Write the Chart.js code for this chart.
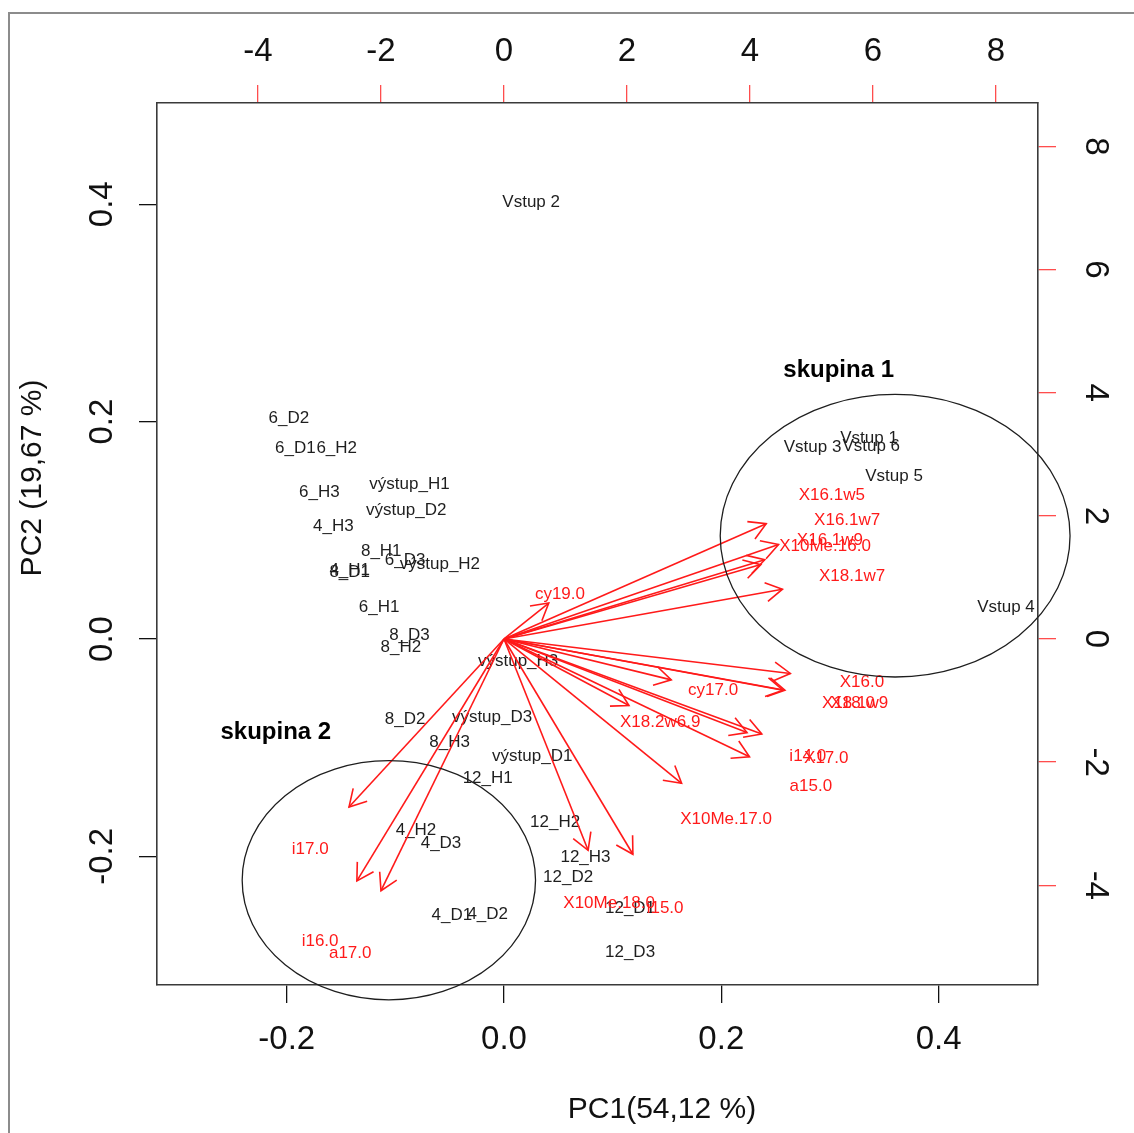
<!DOCTYPE html>
<html>
<head>
<meta charset="utf-8">
<title>PCA biplot</title>
<script src="https://cdn.jsdelivr.net/npm/chart.js@4.4.1/dist/chart.umd.min.js"></script>
<style>
  html, body { margin: 0; padding: 0; background: #fff; overflow: hidden; }
  #wrap { position: relative; width: 1134px; height: 1133px; }
  #frame { position: absolute; left: 8px; top: 12px; width: 1200px; height: 1200px;
           border-left: 2px solid #8c8c8c; border-top: 2px solid #8c8c8c; }
  #biplot { position: absolute; left: 0; top: 0; }
</style>
</head>
<body>
<div id="wrap">
  <div id="frame"></div>
  <canvas id="biplot" width="1134" height="1133"></canvas>
</div>
<script>
// ===============================================================
// DATA
// ===============================================================
// samples: scores on PC1 / PC2 (bottom + left axes)
const sampleNames = ['Vstup 2', '6_D2', '6_D1', '6_H2', '6_H3', 'výstup_H1', 'výstup_D2', '4_H3',
    '8_H1', '6_D3', 'výstup_H2', '4_H1', '8_D1', '6_H1', '8_D3', '8_H2', 'výstup_H3', '8_D2',
    'výstup_D3', '8_H3', 'výstup_D1', '12_H1', '12_H2', '4_H2', '4_D3', '12_H3', '12_D2', '12_D1',
    '4_D1', '4_D2', '12_D3', 'Vstup 1', 'Vstup 3', 'Vstup 6', 'Vstup 5', 'Vstup 4'];
const samplePC1 = [0.025, -0.198, -0.192, -0.154, -0.170, -0.087, -0.090, -0.157,
    -0.113, -0.091, -0.059, -0.142, -0.142, -0.115, -0.087, -0.095, 0.013, -0.091,
    -0.011, -0.050, 0.026, -0.015, 0.047, -0.081, -0.058, 0.075, 0.059, 0.116,
    -0.048, -0.015, 0.116, 0.336, 0.284, 0.338, 0.359, 0.462];
const samplePC2 = [0.402, 0.203, 0.175, 0.175, 0.135, 0.142, 0.118, 0.104,
    0.081, 0.072, 0.069, 0.063, 0.061, 0.029, 0.003, -0.008, -0.021, -0.074,
    -0.072, -0.095, -0.108, -0.128, -0.169, -0.176, -0.188, -0.201, -0.219, -0.248,
    -0.254, -0.253, -0.288, 0.185, 0.176, 0.177, 0.150, 0.029];

// variables: loadings (top + right axes); arrows go to 0.8 * loading, label sits at the loading
const varNames = ['cy19.0', 'X16.1w5', 'X16.1w7', 'X16.1w9', 'X10Me.16.0', 'X18.1w7', 'X16.0',
    'X18.1w9', 'X18.0', 'cy17.0', 'X18.2w6.9', 'i14.0', 'X17.0', 'a15.0', 'X10Me.17.0',
    'X10Me.18.0', 'i15.0', 'i17.0', 'i16.0', 'a17.0'];
const varX = [0.91, 5.33, 5.58, 5.30, 5.22, 5.66, 5.82,
    5.71, 5.67, 3.40, 2.54, 4.94, 5.24, 4.99, 3.61,
    1.71, 2.62, -3.15, -2.99, -2.50];
const varY = [0.73, 2.34, 1.92, 1.61, 1.51, 1.01, -0.70,
    -1.04, -1.04, -0.83, -1.35, -1.90, -1.93, -2.39, -2.93,
    -4.29, -4.37, -3.41, -4.91, -5.11];
const arrowShrink = 0.8;

// tick labels
const pcTicksX = [-0.2, 0.0, 0.2, 0.4];
const pcTicksY = [-0.2, 0.0, 0.2, 0.4];
const loadTicksX = [-4, -2, 0, 2, 4, 6, 8];
const loadTicksY = [-4, -2, 0, 2, 4, 6, 8];

// groups drawn as ellipses (PC units)
const groupNames = ['skupina 1', 'skupina 2'];
const groupCx = [0.360, -0.106];
const groupCy = [0.095, -0.222];
const groupRx = [0.161, 0.135];
const groupRy = [0.130, 0.110];
const groupLabelX = [0.308, -0.210];
const groupLabelY = [0.247, -0.086];

const axisTitleX = 'PC1(54,12 %)';
const axisTitleY = 'PC2 (19,67 %)';

document.addEventListener('DOMContentLoaded', () => {

    const FONT = '"Liberation Sans", Arial, sans-serif';
    const RED = '#ff1a1a';
    const INK = '#1e1e1e';

    // ===============================================================
    // DATASETS
    // ===============================================================
    const datasets = [];

    // samples: invisible points, labels drawn by the plugin at their pixels
    datasets.push({
        label: 'samples',
        data: sampleNames.map((n, i) => ({ x: samplePC1[i], y: samplePC2[i] })),
        xAxisID: 'x', yAxisID: 'y',
        pointRadius: 0, showLine: false
    });

    // variable label anchors
    datasets.push({
        label: 'variables',
        data: varNames.map((n, i) => ({ x: varX[i], y: varY[i] })),
        xAxisID: 'x2', yAxisID: 'y2',
        pointRadius: 0, showLine: false
    });

    // one arrow shaft per variable
    varNames.forEach((n, i) => {
        datasets.push({
            label: 'arrow ' + n,
            data: [{ x: 0, y: 0 }, { x: varX[i] * arrowShrink, y: varY[i] * arrowShrink }],
            xAxisID: 'x2', yAxisID: 'y2',
            showLine: true, borderColor: RED, borderWidth: 1.6,
            pointRadius: 0, isArrow: true
        });
    });

    // ===============================================================
    // DRAWING PLUGIN (labels, arrow heads, ellipses, tick labels)
    // ===============================================================
    const biplotPlugin = {
        id: 'biplotPlugin',
        beforeDatasetsDraw(chart) {
            const ctx = chart.ctx;
            const meta = chart.getDatasetMeta(0);
            ctx.save();
            ctx.font = '17px ' + FONT;
            ctx.fillStyle = INK;
            ctx.textAlign = 'center';
            ctx.textBaseline = 'middle';
            meta.data.forEach((pt, i) => ctx.fillText(sampleNames[i], pt.x, pt.y));
            ctx.restore();
        },
        afterDatasetsDraw(chart) {
            const { ctx, chartArea, scales } = chart;
            ctx.save();

            // arrow heads
            ctx.strokeStyle = RED;
            ctx.lineWidth = 1.6;
            chart.data.datasets.forEach((ds, di) => {
                if (!ds.isArrow) return;
                const pts = chart.getDatasetMeta(di).data;
                const a = Math.atan2(pts[1].y - pts[0].y, pts[1].x - pts[0].x);
                const len = 19, spread = Math.PI / 6;
                ctx.beginPath();
                ctx.moveTo(pts[1].x - len * Math.cos(a - spread), pts[1].y - len * Math.sin(a - spread));
                ctx.lineTo(pts[1].x, pts[1].y);
                ctx.lineTo(pts[1].x - len * Math.cos(a + spread), pts[1].y - len * Math.sin(a + spread));
                ctx.stroke();
            });

            // variable labels
            ctx.font = '17px ' + FONT;
            ctx.fillStyle = RED;
            ctx.textAlign = 'center';
            ctx.textBaseline = 'middle';
            chart.getDatasetMeta(1).data.forEach((pt, i) => ctx.fillText(varNames[i], pt.x, pt.y));

            // group ellipses + names
            ctx.strokeStyle = INK;
            ctx.lineWidth = 1.3;
            groupNames.forEach((g, i) => {
                const cx = scales.x.getPixelForValue(groupCx[i]);
                const cy = scales.y.getPixelForValue(groupCy[i]);
                const rx = scales.x.getPixelForValue(groupCx[i] + groupRx[i]) - cx;
                const ry = cy - scales.y.getPixelForValue(groupCy[i] + groupRy[i]);
                ctx.beginPath();
                ctx.ellipse(cx, cy, rx, ry, 0, 0, Math.PI * 2);
                ctx.stroke();
            });
            ctx.font = 'bold 24px ' + FONT;
            ctx.fillStyle = '#000';
            groupNames.forEach((g, i) => {
                ctx.fillText(g, scales.x.getPixelForValue(groupLabelX[i]), scales.y.getPixelForValue(groupLabelY[i]));
            });

            // tick labels
            ctx.font = '33px ' + FONT;
            ctx.fillStyle = '#111';
            scales.x.ticks.forEach(t => ctx.fillText(t.value.toFixed(1), scales.x.getPixelForValue(t.value), chartArea.bottom + 55));
            scales.x2.ticks.forEach(t => ctx.fillText(String(t.value), scales.x2.getPixelForValue(t.value), chartArea.top - 51));
            scales.y.ticks.forEach(t => {
                ctx.save();
                ctx.translate(chartArea.left - 54, scales.y.getPixelForValue(t.value));
                ctx.rotate(-Math.PI / 2);
                ctx.fillText(t.value.toFixed(1), 0, 0);
                ctx.restore();
            });
            scales.y2.ticks.forEach(t => {
                ctx.save();
                ctx.translate(chartArea.right + 57, scales.y2.getPixelForValue(t.value));
                ctx.rotate(Math.PI / 2);
                ctx.fillText(String(t.value), 0, 0);
                ctx.restore();
            });

            // axis titles
            ctx.font = '30px ' + FONT;
            ctx.fillText(axisTitleX, chartArea.left + 505, chartArea.bottom + 125);
            ctx.save();
            ctx.translate(chartArea.left - 124, chartArea.top + 375);
            ctx.rotate(-Math.PI / 2);
            ctx.fillText(axisTitleY, 0, 0);
            ctx.restore();

            ctx.restore();
        }
    };

    // ===============================================================
    // SCALES
    // ===============================================================
    function axis(pos, min, max, ticks, tickColor, size) {
        const horizontal = (pos === 'top' || pos === 'bottom');
        return {
            type: 'linear', position: pos, min: min, max: max,
            afterBuildTicks: s => { s.ticks = ticks.map(v => ({ value: v })); },
            afterFit: s => { if (horizontal) s.height = size; else s.width = size; },
            ticks: { display: false },
            grid: { drawOnChartArea: false, drawTicks: true, tickLength: 18, color: tickColor, lineWidth: 1.3 },
            border: { display: true, color: '#3a3a3a', width: 1.6 }
        };
    }

    new Chart(document.getElementById('biplot'), {
        type: 'scatter',
        data: { datasets: datasets },
        options: {
            responsive: false,
            animation: false,
            layout: { padding: 0 },
            plugins: { legend: { display: false }, tooltip: { enabled: false }, title: { display: false } },
            scales: {
                x: axis('bottom', -0.3194, 0.4915, pcTicksX, '#111', 148),
                y: axis('left', -0.3184, 0.4932, pcTicksY, '#111', 157),
                x2: axis('top', -5.642, 8.683, loadTicksX, '#ff4d4d', 103),
                y2: axis('right', -5.619, 8.704, loadTicksY, '#ff4d4d', 96)
            }
        },
        plugins: [biplotPlugin]
    });
});
</script>
</body>
</html>
